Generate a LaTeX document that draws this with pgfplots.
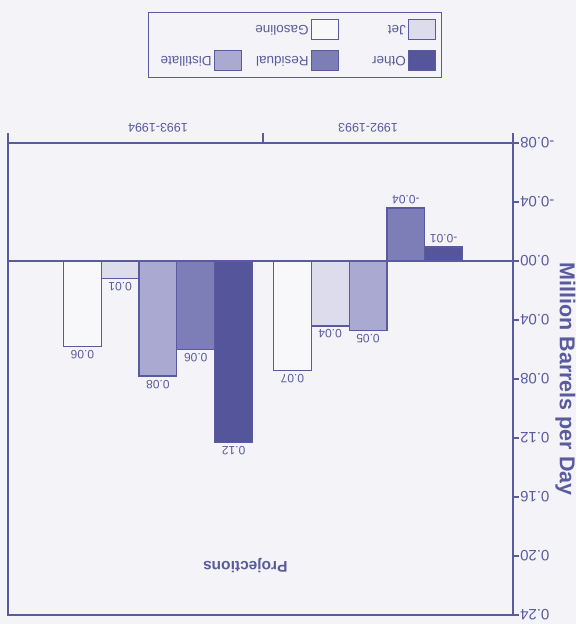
\documentclass[border=0pt]{standalone}
\usepackage{pgfplots}
\pgfplotsset{compat=1.18}
\usepackage{fontspec}
\setmainfont{Liberation Sans}
\usetikzlibrary{backgrounds}
\definecolor{ink}{HTML}{5A5A9E}
\definecolor{bgcol}{HTML}{F4F4F8}
\definecolor{cOther}{HTML}{55559B}
\definecolor{cRes}{HTML}{7D7DB8}
\definecolor{cDist}{HTML}{A9A9D1}
\definecolor{cJet}{HTML}{DCDCEC}
\definecolor{cGas}{HTML}{F8F8FB}
\begin{document}
\begin{tikzpicture}[rotate=180, transform shape,
  background rectangle/.style={fill=bgcol}, show background rectangle, inner frame sep=0pt]
\begin{axis}[
  name=ax,
  scale only axis, width=505pt, height=472pt,
  ybar=0pt, bar width=0.18,
  xmin=-0.69, xmax=1.714, ymin=-0.08, ymax=0.24,
  axis line style={ink, line width=1.2pt},
  every tick/.style={ink, line width=1.2pt},
  xtick={-0.69,0.5,1.714}, xticklabels={},
  x tick label style={font=\fontsize{12.5}{13}\selectfont, text=ink, yshift=-7pt},
  xtick pos=bottom, tick align=outside,
  major tick length=6pt,
  x tick style={/pgfplots/major tick length=10pt},
  extra x ticks={0,1}, extra x tick labels={1992-1993,1993-1994},
  extra x tick style={major tick length=0pt, x tick style={draw=none}},
  ytick={-0.08,-0.04,0,0.04,0.08,0.12,0.16,0.20,0.24},
  ytick pos=left,
  scaled y ticks=false,
  yticklabel style={font=\fontsize{15}{15}\selectfont, text=ink, inner xsep=1pt,
    /pgf/number format/.cd, fixed, fixed zerofill, precision=2, assume math mode=true},
  extra y ticks={0}, extra y tick labels={},
  extra y tick style={grid=major, major grid style={ink, line width=1.2pt}},
  title={Projections},
  title style={at={(axis description cs:0.53,0.883)}, anchor=center,
    font=\fontsize{15.5}{16}\selectfont\bfseries, text=ink},
  ylabel={Million Barrels per Day},
  every axis y label/.style={at={(axis description cs:-0.104,0.5)}, rotate=90, anchor=center,
    font=\fontsize{21.5}{22}\selectfont\bfseries, text=ink},
  nodes near coords={\pgfmathprintnumber[fixed,fixed zerofill,precision=2,assume math mode=true]{\pgfplotspointmeta}},
  every node near coord/.append style={font=\fontsize{12}{12}\selectfont, text=ink},
  legend columns=3,
  legend image code/.code={\draw[#1, line width=1.2pt] (0pt,-10pt) rectangle (27pt,10pt);},
  legend style={at={(0.432,-0.138)}, anchor=north, draw=ink, line width=1.2pt, fill=bgcol,
    font=\fontsize{13.5}{14}\selectfont, text=ink, row sep=10pt, inner ysep=6pt, inner xsep=5pt,
    /tikz/every even column/.append style={column sep=9pt}},
  legend cell align=left,
]
\addplot[draw=ink, line width=1.2pt, fill=cOther] coordinates {(0,-0.0095) (1,0.123)};
\addplot[draw=ink, line width=1.2pt, fill=cRes] coordinates {(0,-0.036) (1,0.060)};
\addplot[draw=ink, line width=1.2pt, fill=cDist] coordinates {(0,0.047) (1,0.078)};
\addplot[draw=ink, line width=1.2pt, fill=cJet] coordinates {(0,0.044) (1,0.012)};
\addplot[draw=ink, line width=1.2pt, fill=cGas] coordinates {(0,0.074) (1,0.058)};
\legend{\makebox[56pt][l]{Other},\makebox[56pt][l]{Residual},\makebox[56pt][l]{Distillate},\makebox[56pt][l]{Jet},\makebox[56pt][l]{Gasoline}}
\end{axis}
\pgfresetboundingbox
\path[use as bounding box] ([shift={(-63pt,-143pt)}]ax.south west) rectangle ([shift={(8pt,9pt)}]ax.north east);
\end{tikzpicture}
\end{document}
